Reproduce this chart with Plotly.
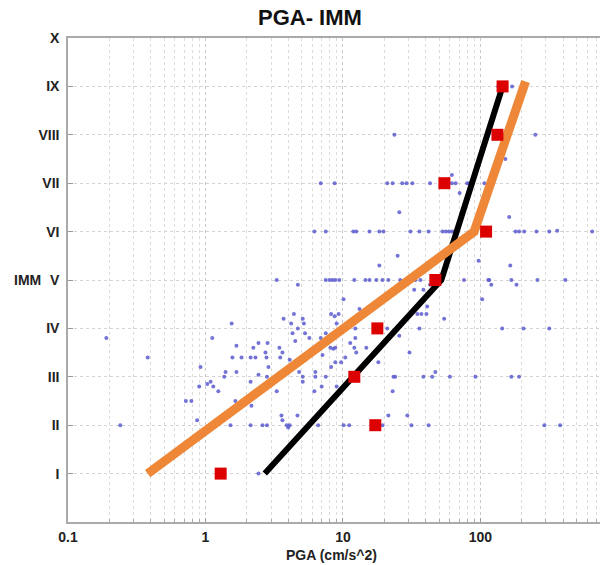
import plotly.graph_objects as go

# ---------------- data ----------------
roman_labels = ["I", "II", "III", "IV", "V", "VI", "VII", "VIII", "IX", "X"]
roman_values = [1, 2, 3, 4, 5, 6, 7, 8, 9, 10]
x_tick_values = [0.1, 1, 10, 100]
x_tick_labels = ["0.1", "1", "10", "100"]

# observations (PGA, intensity)
obs_pga = [
    3.3, 4.7, 4.4, 3.7, 4.2, 5.1, 5.2, 1.55, 4.7, 4.3,
    4.5, 0.19, 1.12, 1.68, 2.43, 2.83, 2.23, 3.45, 3.63,
    0.38, 1.57, 1.83, 2.13, 2.31, 2.73, 2.78, 3.5, 4.1, 4.9, 5.3,
    0.92, 1.4, 1.37, 1.68, 2.87, 2.8, 2.43, 2.13, 4.8, 5.1, 5.1,
    0.9, 1.03, 1.09, 1.14, 1.24, 3.3, 7.0,
    0.72, 0.79, 1.65, 2.16, 0.87, 3.57, 3.63, 4.67, 3.9, 4.1, 4.0,
    0.24, 1.52, 2.13, 2.6, 2.8, 2.43,
    23.7, 251, 152,
    6.9, 8.7, 21, 23, 27, 29, 32, 43, 62, 62, 66, 80, 83, 107, 70.6, 25.7, 162,
    6.2, 7.5, 11.9, 12.5, 15.6, 18.4, 19.7, 31, 36, 42, 53, 56, 59, 62, 65,
    180, 191, 208, 256, 317, 362, 650,
    25, 18.4, 97, 165,
    135, 170,
    7.5, 8.0, 8.4, 8.8, 9.4, 12.1, 14.6, 15.6, 17.5, 19.4, 21.4, 26.1, 31, 33.6,
    36.6, 44.6, 52, 76, 114, 116, 168, 183, 260, 415,
    120, 33, 38.5, 43, 10.1, 103, 41,
    8.2, 8.7, 9.3, 34.8, 37.2, 40.5, 13.2, 54.5, 9.0,
    5.3, 7.5, 12.3, 36, 144, 206, 317, 21, 25.7, 5.7, 6.9,
    8.1, 8.5, 8.8, 11.3, 12.3, 14.8, 12.1, 12.5, 30.5, 7.1, 10.4, 8.8, 9.7, 18.1, 8.2,
    6.3, 6.3, 7.5, 23.3, 24, 38.5, 44.6, 47, 60, 92, 168, 191, 6.2, 9.0, 23,
    21.4, 29.4,
    6.6, 10.1, 11.1, 19.4, 31.5, 42, 292, 380,
]
obs_imm = [
    5.0, 4.9, 4.3, 4.2, 4.1, 4.2, 4.1, 4.1, 4.0, 3.9,
    3.74, 3.8, 3.8, 3.64, 3.7, 3.7, 3.6, 3.6, 3.5,
    3.4, 3.4, 3.4, 3.4, 3.4, 3.5, 3.4, 3.4, 3.35, 3.3, 3.35,
    3.2, 3.1, 3.0, 3.1, 3.2, 3.0, 3.04, 2.9, 3.1, 3.0, 2.9,
    2.8, 2.85, 2.9, 2.8, 2.7, 2.7, 2.8,
    2.5, 2.5, 2.5, 2.4, 2.1, 2.2, 2.1, 2.2, 2.0, 2.0, 1.95,
    2.0, 2.0, 2.0, 2.0, 2.0, 1.0,
    8.0, 8.0, 7.5,
    7.0, 7.0, 7.0, 7.0, 7.0, 7.0, 7.0, 7.0, 7.17, 7.0, 7.0, 7.0, 7.0, 7.0, 6.8, 6.4, 6.3,
    6.0, 6.0, 6.0, 6.0, 6.0, 6.0, 6.0, 6.0, 6.0, 6.0, 6.0, 6.0, 6.0, 6.0, 6.0,
    6.0, 6.0, 6.0, 6.0, 6.0, 6.02, 6.0,
    5.5, 5.3, 5.4, 5.3,
    9.0, 9.0,
    5.0, 5.0, 5.0, 5.0, 5.0, 5.0, 5.0, 5.0, 5.0, 5.0, 5.0, 5.0, 5.0, 5.0,
    5.0, 5.0, 5.0, 5.0, 5.0, 5.0, 5.0, 4.9, 5.0, 5.0,
    4.9, 4.8, 4.8, 4.9, 4.6, 4.6, 4.45,
    4.3, 4.25, 4.3, 4.3, 4.3, 4.3, 4.4, 4.2, 4.1,
    3.9, 3.9, 4.0, 4.0, 4.0, 4.0, 4.0, 4.0, 3.85, 3.8, 3.8,
    3.6, 3.58, 3.6, 3.7, 3.8, 3.6, 3.6, 3.5, 3.5, 3.45, 3.4, 3.3, 3.3, 3.3, 3.2,
    3.1, 3.0, 3.0, 3.0, 3.0, 3.0, 3.0, 3.1, 3.0, 3.0, 3.0, 3.0, 2.7, 2.8, 2.7,
    2.2, 2.2,
    2.0, 2.0, 2.0, 2.0, 2.0, 2.0, 2.0, 2.0,
]

# mean PGA per intensity (red squares)
mean_pga = [1.29, 17.2, 12.1, 17.8, 47, 110, 54.7, 133, 145]
mean_imm = [1, 2, 3, 4, 5, 6, 7, 8, 9]

# fitted relations
black_pga = [2.7, 52, 145]
black_imm = [1, 5, 9]
orange_pga = [0.38, 90, 213]
orange_imm = [1, 6, 9.1]

minor_vals = [m * 10 ** e for e in range(-1, 3) for m in range(2, 10)]

# ---------------- figure ----------------
fig = go.Figure()
fig.add_trace(go.Scatter(
    x=obs_pga, y=obs_imm, mode="markers",
    marker=dict(size=4, color="#5c5cd0", opacity=0.85),
    hoverinfo="skip", showlegend=False,
))
fig.add_trace(go.Scatter(
    x=black_pga, y=black_imm, mode="lines",
    line=dict(color="#000000", width=6), showlegend=False,
))
fig.add_trace(go.Scatter(
    x=orange_pga, y=orange_imm, mode="lines",
    line=dict(color="#ee8838", width=9), showlegend=False,
))
fig.add_trace(go.Scatter(
    x=mean_pga, y=mean_imm, mode="markers",
    marker=dict(symbol="square", size=12, color="#dd0000"),
    showlegend=False,
))

font_main = "Liberation Sans, Arial, sans-serif"

fig.update_layout(
    width=600, height=565,
    margin=dict(l=68, r=0, t=38, b=43),
    paper_bgcolor="white", plot_bgcolor="white",
    font=dict(family=font_main, color="#222"),
    showlegend=False,
    annotations=[
        dict(text="<b>PGA- IMM</b>", xref="paper", yref="paper",
             x=0.455, y=1.0, yshift=21, xanchor="center", yanchor="middle",
             showarrow=False, font=dict(size=22, family=font_main, color="#111")),
        dict(text="<b>IMM</b>", xref="paper", yref="y", x=0, xshift=-41, y=5,
             xanchor="center", yanchor="middle", showarrow=False,
             font=dict(size=14, family=font_main, color="#222")),
        dict(text="<b>PGA (cm/s^2)</b>", xref="paper", yref="paper", x=0.496, y=0,
             yshift=-33, xanchor="center", yanchor="middle", showarrow=False,
             font=dict(size=14, family=font_main, color="#222")),
    ],
)

fig.update_xaxes(
    type="log", range=[-1, 2.87],
    tickvals=x_tick_values, ticktext=[f"<b>{t}</b>" for t in x_tick_labels],
    tickfont=dict(size=14, color="#222"),
    showgrid=True, gridcolor="#c8c8c8", griddash="dot", gridwidth=1,
    ticks="inside", ticklen=4, tickcolor="#999",
    minor=dict(tickvals=minor_vals, showgrid=True, gridcolor="#dcdcdc",
               griddash="dot", ticks="inside", ticklen=3, tickcolor="#aaa"),
    showline=True, linecolor="#aaaaaa", linewidth=1.5, mirror=True,
    zeroline=False, ticklabelstandoff=1,
)
fig.update_yaxes(
    range=[0, 10],
    tickvals=roman_values, ticktext=[f"<b>{t}</b>" for t in roman_labels],
    tickfont=dict(size=14, color="#222"),
    showgrid=True, gridcolor="#d4d4d4", griddash="dot", gridwidth=1,
    ticks="inside", ticklen=5, tickcolor="#999",
    showline=True, linecolor="#aaaaaa", linewidth=1.5, mirror=False,
    zeroline=False, ticklabelstandoff=4,
)

fig.write_html("out.html", config={"displayModeBar": False},
               post_script="document.body.style.margin='0';")
